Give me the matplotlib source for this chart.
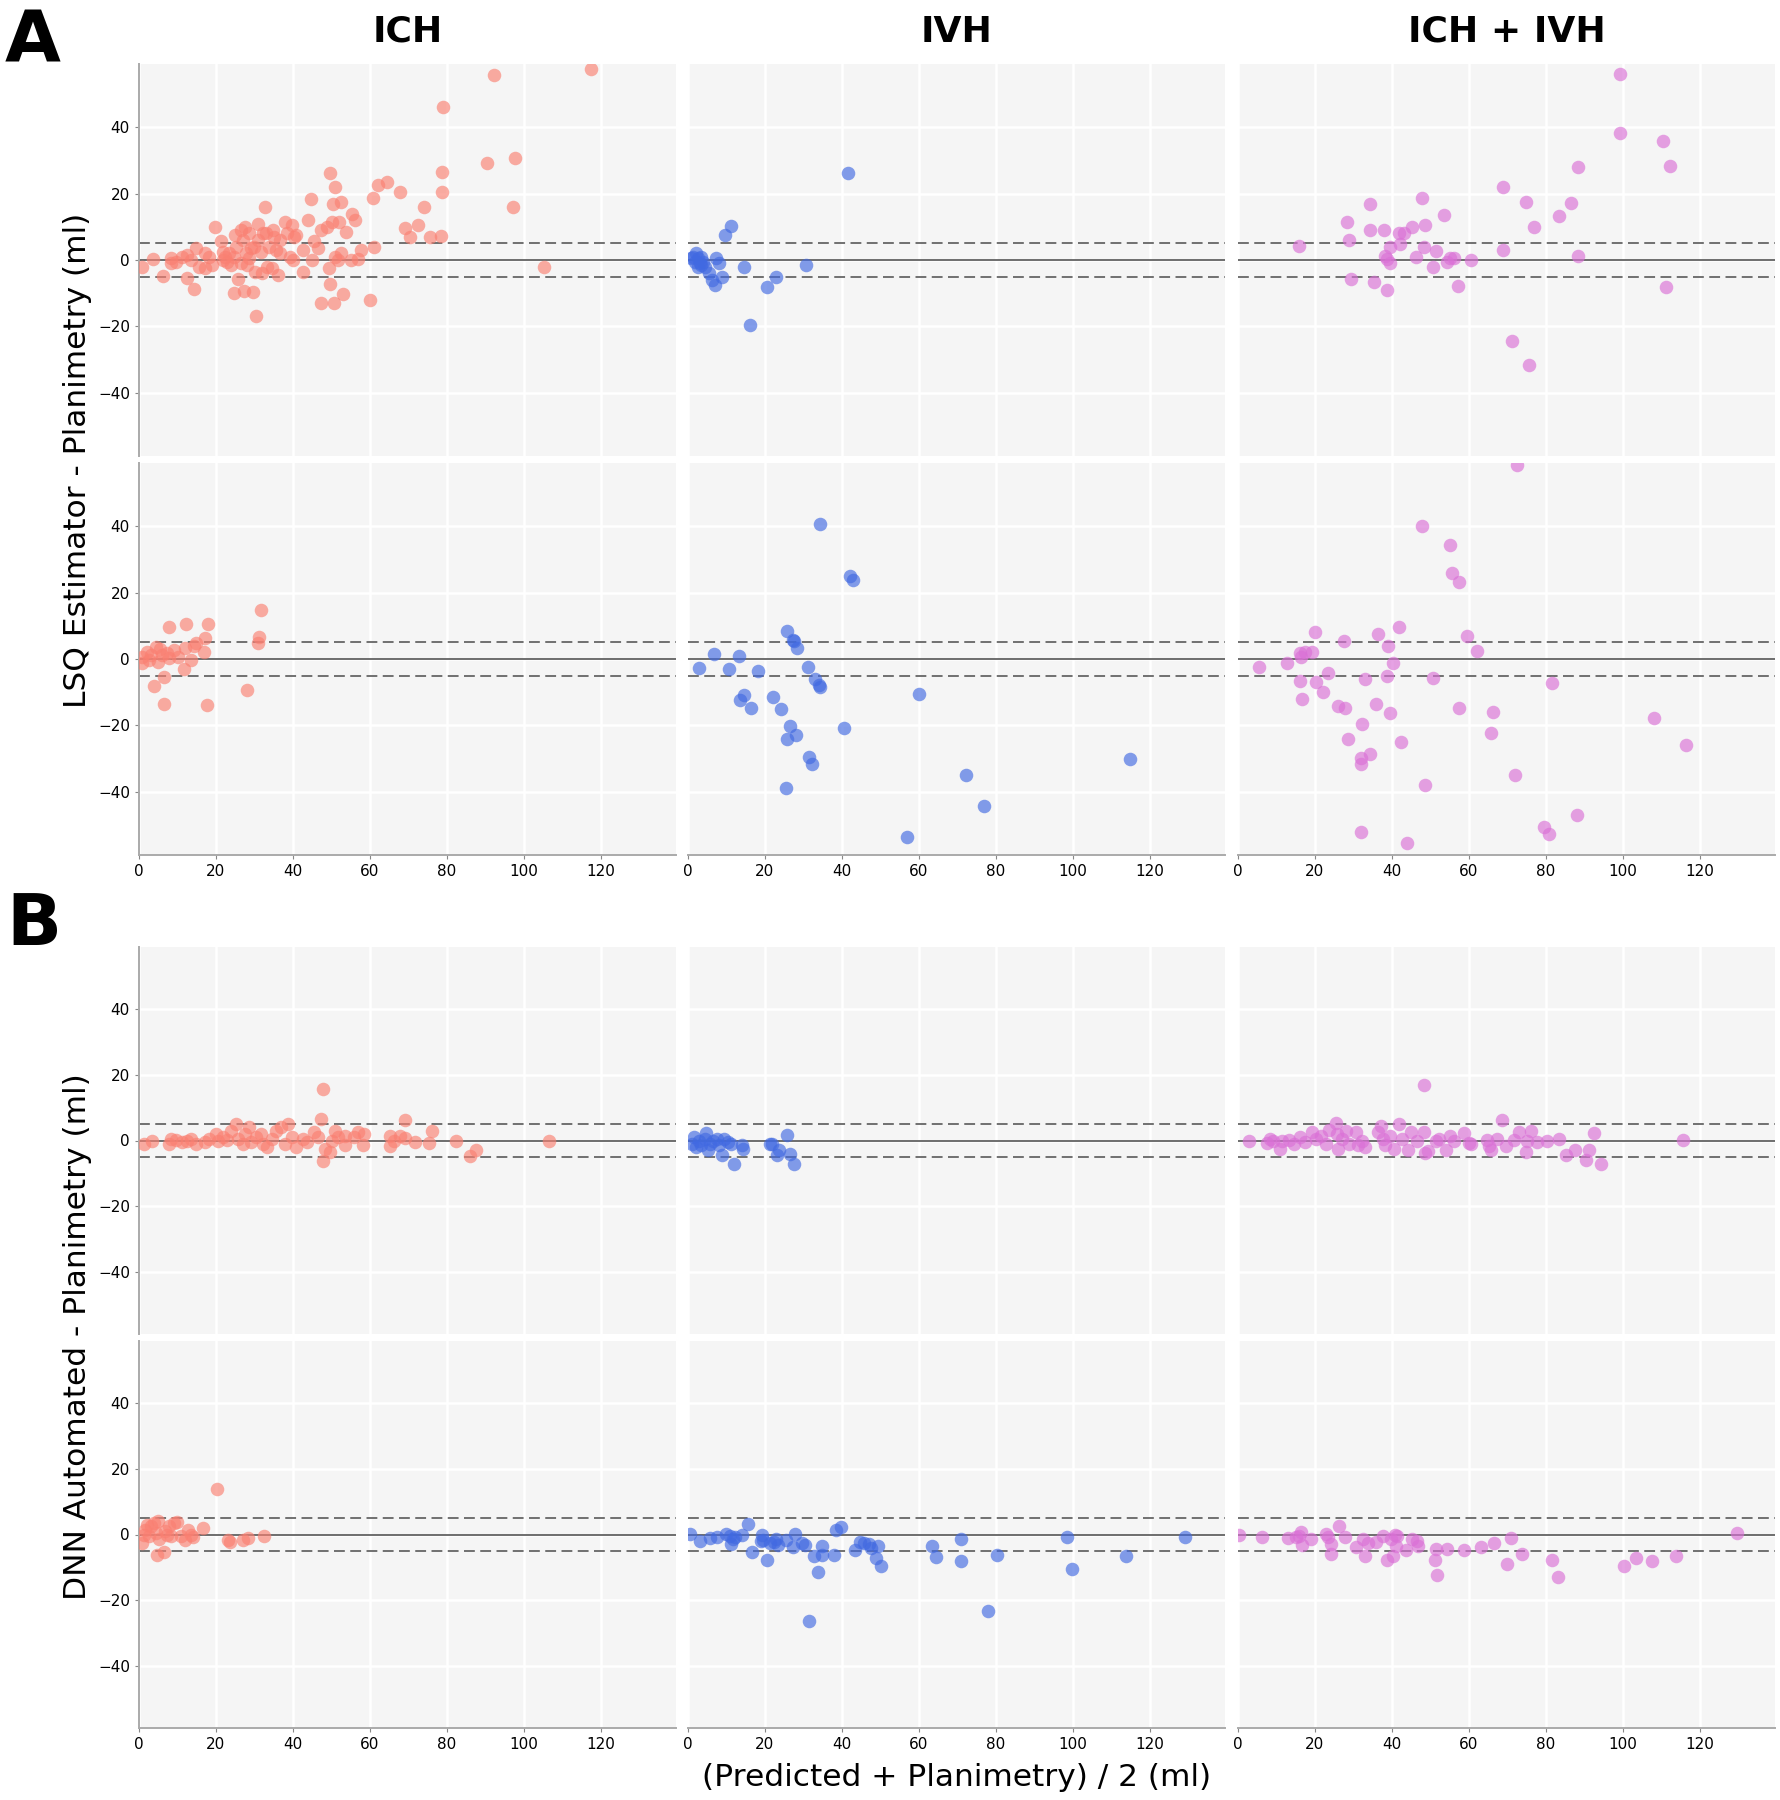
import matplotlib
matplotlib.use("Agg")
import matplotlib.pyplot as plt

# ---- data: mean volume (x) vs difference (y), one pair of lists per panel ----
# panel A (LSQ estimator), upper row
lsq1_ich_x = [0.9, 3.6, 6.2, 8.4, 8.4, 9.6, 11.3, 12.5, 12.5, 13.6, 14.2, 14.8, 15.7, 17.1, 18.3,
              18.9, 19.8, 21.2, 21.7, 22.3, 22.9, 23.8, 24.6, 25.0, 25.2, 25.8, 26.4, 26.9, 27.3,
              27.5, 27.9, 28.1, 28.7, 29.2, 29.6, 30.1, 30.4, 30.8, 31.0, 31.6, 31.9, 32.7, 32.9,
              33.3, 33.9, 34.5, 35.0, 35.6, 36.2, 36.5, 37.9, 38.5, 39.1, 39.7, 40.0, 40.2, 40.8,
              42.5, 42.5, 43.9, 44.6, 44.9, 45.4, 46.6, 47.2, 47.4, 48.9, 49.3, 49.5, 49.7, 50.1,
              50.4, 50.6, 50.9, 50.9, 51.6, 52.0, 52.4, 52.4, 52.9, 53.8, 55.0, 55.3, 56.1, 57.0,
              57.6, 59.9, 60.8, 61.0, 62.0, 64.3, 67.7, 69.1, 70.5, 72.6, 74.0, 75.5, 78.4, 78.6,
              78.7, 79.0, 90.5, 92.3, 97.1, 97.8, 105.2, 117.5,
              23.5, 24.6, 26.4, 28.7, 29.8, 32.1, 34.7, 36.7, 21.7, 17.1]
lsq1_ich_y = [-2.0, 0.2, -4.8, 0.5, -1.0, -0.5, 1.0, 1.5, -5.5, 0.0, -8.8, 3.5, -2.0, -2.5, 1.0,
              -1.5, 9.8, 5.8, 2.5, 1.0, -0.5, -1.5, -10.0, 7.5, 4.0, -5.8, 9.0, 6.0, -9.2,
              10.0, 2.0, -1.5, 8.0, 3.5, -9.5, -3.5, -17.0, 10.9, 6.0, 2.5, -4.0, 16.0, 8.0,
              -2.0, 4.0, -2.5, 7.0, 3.0, -4.5, 2.0, 11.3, 8.0, 1.0, 10.5, 0.0, 6.8, 7.5,
              -3.5, 3.0, 11.9, 18.3, 0.0, 5.8, 3.5, 9.0, -13.0, 10.0, -2.5, -7.2, 26.1, 11.3,
              16.9, -13.0, 22.1, 1.0, 0.0, 11.3, 17.6, 2.0, -10.3, 8.5, 0.0, 13.9, 12.1, 0.2,
              3.0, -11.9, 18.6, 4.0, 22.6, 23.4, 20.4, 9.5, 6.8, 10.6, 15.9, 7.0, 7.3, 20.6,
              26.6, 46.0, 29.3, 55.8, 15.9, 30.7, -2.2, 57.5,
              2.0, 1.0, -1.0, 0.5, 4.0, 8.0, 9.0, 6.0, 0.0, 2.0]

lsq1_ivh_x = [1.2, 2.1, 2.6, 3.0, 3.5, 4.0, 4.4, 2.6, 5.4, 6.3, 7.0, 7.2, 8.1, 8.9, 9.7, 11.3,
              14.6, 16.0, 20.6, 22.9, 30.7, 41.6, 0.7, 1.7, 3.5]
lsq1_ivh_y = [1.0, 2.0, 0.5, -1.0, 0.8, -0.5, -2.0, -2.0, -4.0, -6.0, -7.5, 0.5, -1.0, -5.0, 7.5,
              10.3, -2.0, -19.6, -8.0, -5.2, -1.5, 26.1, 0.5, -0.5, -1.5]

lsq1_both_x = [15.9, 28.2, 28.9, 29.3, 34.4, 34.4, 35.3, 37.9, 38.2, 38.7, 38.8, 39.4, 39.5, 41.9,
               42.1, 43.0, 45.2, 46.3, 47.9, 48.2, 48.6, 50.7, 51.4, 53.5, 54.4, 55.0, 56.2, 57.2,
               60.4, 68.8, 68.8, 71.1, 74.8, 75.7, 77.0, 83.3, 86.6, 88.2, 88.2, 99.3, 99.3, 110.4,
               111.2, 112.1]
lsq1_both_y = [4.3, 11.3, 6.0, -5.7, 17.0, 9.0, -6.6, 9.0, 1.2, 0.4, -9.1, -1.0, 3.8, 8.0,
               4.7, 8.0, 9.8, 1.0, 18.6, 3.8, 10.5, -2.0, 2.8, 13.4, -0.5, 0.5, 0.7, -7.8,
               0.0, 21.9, 3.0, -24.3, 17.6, -31.5, 9.8, 13.1, 17.3, 28.1, 1.3, 55.9, 38.1, 35.9,
               -8.2, 28.4]

# panel A (LSQ estimator), lower row
lsq2_ich_x = [0.7, 0.9, 2.1, 2.7, 3.2, 3.9, 4.4, 5.0, 5.5, 6.1, 6.5, 6.5, 7.3, 7.9, 7.9, 9.0,
              10.2, 11.7, 11.9, 12.3, 13.4, 14.2, 14.8, 16.8, 17.1, 17.7, 18.0, 28.1, 31.0, 31.3,
              31.8]
lsq2_ich_y = [-1.3, 0.7, 2.2, -0.3, 1.2, -8.1, 3.7, -0.8, 2.9, 1.2, -5.5, -13.4, 1.7, 9.5, 0.2,
              2.7, 0.7, -3.1, 3.2, 10.5, -0.3, 3.9, 4.7, 2.2, 6.2, -13.9, 10.5, -9.3, 4.9, 6.7,
              14.8]

lsq2_ivh_x = [2.9, 6.7, 10.6, 13.2, 13.5, 14.6, 16.4, 18.3, 22.2, 24.1, 25.5, 25.6, 25.8, 26.6,
              27.3, 27.5, 28.0, 28.4, 31.2, 31.4, 32.3, 33.0, 34.0, 34.4, 34.4, 40.4, 42.1, 42.8,
              56.8, 60.0, 72.1, 76.8, 114.7]
lsq2_ivh_y = [-2.8, 1.4, -3.1, 0.9, -12.2, -10.9, -14.9, -3.5, -11.4, -15.0, -38.7, -24.2, 8.4,
              -20.1, 5.7, 5.5, -23.0, 3.4, -2.3, -29.4, -31.5, -6.1, -7.8, -8.5, 40.7, -20.8,
              25.1, 23.7, -53.6, -10.6, -35.0, -44.3, -30.2]

lsq2_both_x = [72.6, 5.4, 12.7, 16.2, 16.4, 17.5, 19.2, 16.2, 16.7, 19.9, 20.3, 22.1, 23.4, 26.1,
               27.6, 27.8, 28.7, 31.9, 32.0, 31.9, 32.3, 32.9, 34.2, 35.9, 36.4, 38.7, 39.0, 39.5,
               40.3, 41.7, 42.4, 43.9, 47.9, 48.7, 50.6, 55.0, 55.7, 57.5, 57.5, 59.5, 62.1, 65.6,
               66.3, 71.9, 79.6, 80.7, 81.6, 88.0, 108.1, 116.4]
lsq2_both_y = [58.5, -2.5, -1.3, 1.7, 0.7, 2.2, 2.0, -6.5, -11.9, 8.0, -7.0, -9.9, -4.1, -14.1,
               5.5, -14.8, -24.0, -29.7, -31.5, -52.1, -19.6, -6.0, -28.6, -13.6, 7.6, -5.2, 4.0,
               -16.2, -1.1, 9.5, -25.1, -55.3, 40.0, -37.8, -5.7, 34.2, 25.8, 23.1, -14.8, 6.8,
               2.5, -22.2, -16.1, -34.9, -50.6, -52.6, -7.2, -47.0, -17.7, -26.0]

# panel B (DNN automated), upper row
dnn1_ich_x = [1.2, 3.5, 7.9, 8.4, 9.6, 11.3, 12.5, 13.6, 14.8, 17.1, 18.3, 20.0, 20.6, 21.7, 22.9,
              24.0, 25.2, 25.8, 26.9, 27.5, 28.7, 29.2, 30.4, 31.6, 32.1, 33.3, 34.5, 35.6, 36.8,
              37.9, 38.8, 39.7, 40.8, 42.5, 43.7, 45.4, 46.6, 47.4, 47.7, 47.7, 48.3, 49.5, 50.1,
              50.9, 51.8, 53.5, 53.5, 55.8, 57.0, 58.2, 58.5, 65.1, 65.1, 66.2, 67.9, 69.1, 69.1,
              71.7, 75.3, 76.1, 82.3, 86.1, 87.6, 106.4]
dnn1_ich_y = [-1.0, -0.2, -1.0, 0.5, 0.2, -0.5, 0.0, 0.5, -1.0, -0.5, 0.5, 2.0, 0.0, 1.0, 0.2,
              2.8, 5.0, 0.5, -1.0, 2.0, 4.0, -0.5, 1.0, 2.0, -1.0, -2.0, 0.5, 3.0, 4.0,
              -1.0, 5.0, 1.0, -2.0, 0.5, -0.5, 2.5, 1.0, 6.6, 15.7, -6.1, -2.5, -3.5, 0.0,
              3.0, 1.0, 1.5, -1.5, 1.0, 2.5, -1.5, 2.0, 1.5, -1.8, 0.0, 1.5, 6.4, 0.8,
              -0.5, -0.7, 2.8, -0.2, -4.8, -2.8, 0.0]

dnn1_ivh_x = [1.1, 1.6, 2.0, 2.9, 3.4, 4.3, 4.8, 5.3, 5.7, 6.6, 7.6, 8.0, 8.9, 9.4, 10.3, 11.2,
              12.0, 14.0, 14.2, 21.4, 21.8, 23.2, 23.7, 25.8, 26.5, 27.6]
dnn1_ivh_y = [-1.0, 1.0, -2.0, 0.0, -1.5, 0.5, 2.2, -3.0, -1.0, 0.0, 0.5, -1.5, -4.3, 0.5, -0.5,
              -1.0, -7.1, -1.5, -2.7, -1.0, -1.2, -4.3, -3.0, 1.7, -4.1, -7.1]

dnn1_both_x = [2.9, 7.5, 8.2, 9.1, 10.8, 11.4, 13.3, 14.6, 16.0, 17.4, 19.2, 20.2, 21.5, 22.9, 23.6,
               25.5, 25.7, 26.1, 27.0, 28.0, 28.9, 30.7, 31.2, 32.1, 33.0, 36.3, 37.2, 37.6, 38.1,
               39.5, 40.4, 41.8, 42.7, 44.1, 45.0, 46.4, 48.2, 48.2, 48.5, 49.4, 51.4, 52.3, 54.1,
               55.1, 56.0, 58.6, 59.9, 60.4, 64.8, 65.2, 65.7, 67.3, 68.7, 69.6, 71.7, 73.0, 74.9,
               75.2, 76.1, 77.6, 80.2, 83.4, 85.3, 87.5, 90.5, 91.2, 92.5, 94.3, 115.6]
dnn1_both_y = [-0.2, -0.8, 0.5, 0.0, -2.5, -0.2, 0.2, -1.0, 1.0, -0.5, 2.5, 0.5, 1.5, -1.0, 3.2,
               5.3, 2.0, -2.5, 0.5, 3.0, -1.0, 2.5, -1.5, 0.0, -2.0, 2.5, 4.3, 0.5, -1.5,
               1.5, -2.5, 5.1, 0.5, -3.0, 2.5, 0.0, 17.0, 2.5, -3.9, -3.2, 0.0, 0.5, -2.8,
               1.5, 0.0, 2.2, -0.8, -1.0, 0.2, -1.8, -2.8, 0.5, 6.1, -1.8, 0.2, 2.5, -3.6,
               0.0, 3.0, -0.5, 0.0, 0.5, -4.3, -3.0, -5.9, -2.8, 2.2, -7.3, 0.3]

# panel B (DNN automated), lower row
dnn2_ich_x = [0.9, 1.2, 1.5, 2.1, 2.7, 3.2, 3.8, 4.4, 4.6, 5.0, 5.3, 6.5, 6.7, 7.3, 7.9, 8.4, 9.0,
              9.9, 10.8, 11.9, 12.7, 13.6, 13.9, 16.5, 20.2, 23.2, 23.7, 26.9, 28.3, 32.6]
dnn2_ich_y = [-2.5, 0.0, 1.5, 3.0, -0.5, 2.5, 3.5, 0.5, -6.4, 4.0, -1.5, -5.4, 1.0, 0.0, 2.5,
              -0.5, 3.5, 3.7, -0.5, -1.7, 1.5, 0.0, -0.7, 2.0, 13.9, -1.7, -2.2, -1.7, -1.1, -0.5]

dnn2_ivh_x = [0.5, 3.1, 5.7, 7.6, 9.9, 10.8, 11.2, 11.7, 12.2, 14.0, 15.6, 16.6, 19.1, 18.9, 19.5,
              20.6, 21.4, 22.3, 22.9, 23.5, 25.5, 27.4, 27.8, 29.7, 30.3, 31.5, 32.7, 33.7, 34.7,
              34.7, 37.8, 38.4, 39.8, 43.3, 44.6, 45.8, 46.9, 47.5, 49.3, 48.9, 50.2, 63.3, 64.4,
              70.9, 71.0, 77.9, 80.3, 98.4, 99.7, 113.8, 129.0]
dnn2_ivh_y = [0.2, -2.0, -1.0, -0.8, 0.2, -0.5, -2.8, -1.3, -0.7, -0.3, 3.1, -5.4, -0.3, -2.0,
              -1.7, -7.7, -2.6, -2.2, -1.5, -3.1, -1.7, -3.8, 0.2, -2.6, -3.1, -26.5, -6.6, -11.5,
              -3.6, -6.4, -6.4, 1.5, 2.3, -4.8, -2.3, -2.6, -2.8, -4.1, -3.4, -7.1, -9.7, -3.6,
              -6.8, -1.3, -8.1, -23.4, -6.4, -0.9, -10.5, -6.7, -0.9]

dnn2_both_x = [0.2, 6.3, 13.0, 15.0, 15.9, 16.4, 16.7, 18.9, 22.8, 23.4, 24.2, 24.2, 26.2, 27.7,
               30.6, 32.4, 32.9, 33.8, 35.9, 37.7, 38.8, 39.7, 40.2, 40.7, 41.1, 41.4, 43.6, 45.2,
               46.6, 46.8, 51.1, 51.5, 51.8, 54.2, 58.8, 63.2, 66.5, 69.9, 71.0, 73.8, 81.6, 83.1,
               100.3, 103.4, 107.6, 113.8, 129.7]
dnn2_both_y = [0.0, -0.9, -1.2, -0.7, -0.5, 0.7, -3.1, -1.3, 0.3, -0.7, -2.9, -5.9, 2.6, -0.7,
               -3.8, -1.5, -6.6, -2.6, -2.3, -0.5, -7.7, -1.5, -6.6, -0.3, -3.6, -0.5, -4.8, -1.5,
               -2.0, -3.6, -7.9, -4.3, -12.4, -4.3, -4.6, -3.8, -2.7, -9.1, -1.2, -5.9, -7.8, -13.0,
               -9.6, -7.2, -8.2, -6.7, 0.4]

col_titles = ["ICH", "IVH", "ICH + IVH"]
col_colors = ["salmon", "royalblue", "orchid"]
rows = [
    [(lsq1_ich_x, lsq1_ich_y), (lsq1_ivh_x, lsq1_ivh_y), (lsq1_both_x, lsq1_both_y)],
    [(lsq2_ich_x, lsq2_ich_y), (lsq2_ivh_x, lsq2_ivh_y), (lsq2_both_x, lsq2_both_y)],
    [(dnn1_ich_x, dnn1_ich_y), (dnn1_ivh_x, dnn1_ivh_y), (dnn1_both_x, dnn1_both_y)],
    [(dnn2_ich_x, dnn2_ich_y), (dnn2_ivh_x, dnn2_ivh_y), (dnn2_both_x, dnn2_both_y)],
]
limit = 5
xticks = [0, 20, 40, 60, 80, 100, 120]
yticks = [-40, -20, 0, 20, 40]

W, H = 1781, 1800
fig = plt.figure(figsize=(W / 100, H / 100), dpi=100)

col_left = [139, 688, 1238]
col_w = 537
row_top = [64, 463, 947, 1341]
row_h = [392, 392, 387, 387]

for r in range(4):
    for c in range(3):
        rect = [col_left[c] / W, 1 - (row_top[r] + row_h[r]) / H, col_w / W, row_h[r] / H]
        ax = fig.add_axes(rect)
        ax.set_facecolor("#f5f5f5")
        ax.grid(True, color="white", linewidth=1.8)
        ax.set_axisbelow(True)
        x, y = rows[r][c]
        ax.scatter(x, y, s=95, color=col_colors[c], alpha=0.65, linewidths=0, zorder=3)
        ax.axhline(0, color="#555555", linewidth=1.2, zorder=2)
        ax.axhline(limit, color="#666666", linewidth=1.3, linestyle=(0, (6, 3)), zorder=2)
        ax.axhline(-limit, color="#666666", linewidth=1.3, linestyle=(0, (6, 3)), zorder=2)
        ax.set_xlim(0, 139.5)
        ax.set_ylim(-59, 59)
        ax.set_xticks(xticks)
        ax.set_yticks(yticks)
        for s in ["top", "right", "left", "bottom"]:
            ax.spines[s].set_visible(False)
        ax.tick_params(labelsize=11, color="#888888", length=3)
        if c == 0:
            ax.spines["left"].set_visible(True)
            ax.spines["left"].set_color("#aaaaaa")
            ax.spines["left"].set_linewidth(1.4)
        else:
            ax.tick_params(axis="y", left=False, labelleft=False)
        if r in (1, 3):
            ax.spines["bottom"].set_visible(True)
            ax.spines["bottom"].set_color("#aaaaaa")
            ax.spines["bottom"].set_linewidth(1.4)
        else:
            ax.tick_params(axis="x", bottom=False, labelbottom=False)
        if r == 0:
            fig.text((col_left[c] + col_w / 2) / W, 1 - 32 / H, col_titles[c],
                     fontsize=26, fontweight="bold", ha="center", va="center")

# panel letters, placed by their baseline so the glyph sits inside the figure
fig.text(5 / W, 1 - 62 / H, "A", fontsize=52, fontweight="bold", ha="left", va="baseline")
fig.text(6 / W, 1 - 945 / H, "B", fontsize=52, fontweight="bold", ha="left", va="baseline")
fig.text(78 / W, 1 - 460 / H, "LSQ Estimator - Planimetry (ml)", fontsize=22.5,
         rotation=90, ha="center", va="center")
fig.text(78 / W, 1 - 1337 / H, "DNN Automated - Planimetry (ml)", fontsize=22.5,
         rotation=90, ha="center", va="center")
fig.text(957 / W, 1 - 1778 / H, "(Predicted + Planimetry) / 2 (ml)", fontsize=22.5,
         ha="center", va="center")

fig.savefig("out.png", dpi=100)
